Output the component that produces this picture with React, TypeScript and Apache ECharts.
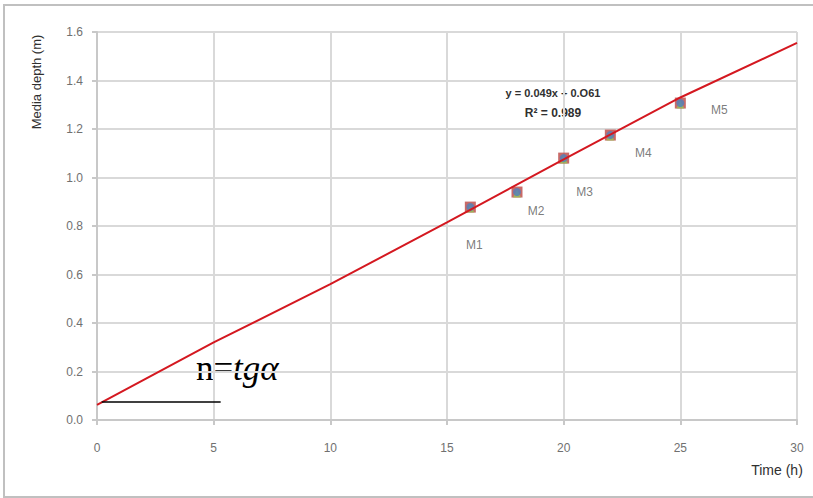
import React, { useEffect, useRef } from "react";
import * as echarts from "echarts";

const xTicks = [0, 5, 10, 15, 20, 25, 30];
const yTicks = [0, 0.2, 0.4, 0.6, 0.8, 1.0, 1.2, 1.4, 1.6];

// fitted line
const lineX = [0, 5, 10, 15, 20, 25, 30];
const lineY = [0.062, 0.32, 0.56, 0.815, 1.075, 1.33, 1.555];

// measured points
const pointNames = ["M1", "M2", "M3", "M4", "M5"];
const pointX = [16, 18, 20, 22, 25];
const pointY = [0.878, 0.94, 1.08, 1.175, 1.307];
const labelOffsets = [[4, 38], [19, 19], [21, 34], [33, 18], [39, 7]];

// annotation baseline
const baseX = [0.2, 5.3];
const baseY = [0.074, 0.074];

const equation = "y = 0.049x + 0.O61";
const r2 = "R² = 0.989";

export default function App() {
  const ref = useRef<HTMLDivElement>(null);
  useEffect(() => {
    if (!ref.current) return;
    const chart = echarts.init(ref.current, null, { renderer: "svg" });
    const pts = pointX.map((x, i) => [x, pointY[i]]);
    const font = "'Liberation Sans', Arial, sans-serif";
    const serif = "'Liberation Serif', 'Times New Roman', serif";
    chart.setOption({
      animation: false,
      backgroundColor: "#ffffff",
      grid: { left: 97, right: 16, top: 32, bottom: 78, containLabel: false },
      xAxis: {
        type: "value",
        min: xTicks[0],
        max: xTicks[xTicks.length - 1],
        interval: 5,
        axisLine: { show: true, lineStyle: { color: "#c8c8c8", width: 2 } },
        axisTick: { show: true, length: 5, lineStyle: { color: "#c8c8c8", width: 2 } },
        axisLabel: { color: "#707070", fontSize: 12, fontFamily: font, margin: 22 },
        splitLine: { show: true, lineStyle: { color: "#d9d9d9", width: 2 } },
      },
      yAxis: {
        type: "value",
        min: yTicks[0],
        max: yTicks[yTicks.length - 1],
        interval: 0.2,
        axisLine: { show: true, lineStyle: { color: "#c8c8c8", width: 2 } },
        axisTick: { show: true, length: 5, lineStyle: { color: "#c8c8c8", width: 2 } },
        axisLabel: {
          color: "#707070",
          fontSize: 12,
          fontFamily: font,
          margin: 14,
          formatter: (v: number) => v.toFixed(1),
        },
        splitLine: { show: true, lineStyle: { color: "#d9d9d9", width: 2 } },
      },
      series: [
        {
          type: "scatter",
          data: pts,
          symbol: "rect",
          symbolSize: 11,
          itemStyle: { color: "#c0504d", opacity: 0.85 },
          z: 2,
        },
        {
          type: "scatter",
          data: pts.map((p) => [p[0], p[1] - 0.006]),
          symbol: "triangle",
          symbolSize: 8,
          itemStyle: { color: "#9bbb59", opacity: 0.9 },
          z: 3,
        },
        {
          type: "scatter",
          data: pts.map((p, i) => ({
            value: p,
            label: {
              show: true,
              formatter: pointNames[i],
              position: "inside",
              offset: labelOffsets[i],
              color: "#595959",
              fontSize: 12,
              fontFamily: font,
            },
          })),
          symbol: "circle",
          symbolSize: 8,
          itemStyle: { color: "#4f81bd" },
          z: 4,
        },
        {
          type: "line",
          data: lineX.map((x, i) => [x, lineY[i]]),
          showSymbol: false,
          symbol: "none",
          lineStyle: { color: "#d41820", width: 2 },
          z: 5,
        },
        {
          type: "line",
          data: baseX.map((x, i) => [x, baseY[i]]),
          showSymbol: false,
          symbol: "none",
          lineStyle: { color: "#000000", width: 1.5 },
          z: 6,
        },
      ],
      graphic: [
        {
          type: "rect",
          shape: { x: 4, y: 5, width: 830, height: 492 },
          style: { fill: "none", stroke: "#c0c0c0", lineWidth: 2 },
          silent: true,
          z: -10,
        },
        {
          type: "text",
          x: 36,
          y: 82,
          rotation: Math.PI / 2,
          style: {
            text: "Media depth (m)",
            fill: "#303030",
            font: `13px ${font}`,
            align: "center",
            verticalAlign: "middle",
          },
        },
        {
          type: "text",
          x: 777,
          y: 470,
          style: {
            text: "Time (h)",
            fill: "#303030",
            font: `14px ${font}`,
            align: "center",
            verticalAlign: "middle",
          },
        },
        {
          type: "text",
          x: 553,
          y: 93,
          style: {
            text: equation,
            fill: "#303030",
            font: `bold 11px ${font}`,
            align: "center",
            verticalAlign: "middle",
          },
        },
        {
          type: "text",
          x: 553,
          y: 113,
          style: {
            text: r2,
            fill: "#303030",
            font: `bold 12px ${font}`,
            align: "center",
            verticalAlign: "middle",
          },
        },
        {
          type: "text",
          x: 196,
          y: 368,
          style: {
            text: "n=",
            fill: "#000000",
            font: `35px ${serif}`,
            align: "left",
            verticalAlign: "middle",
          },
        },
        {
          type: "text",
          x: 233,
          y: 368,
          style: {
            text: "tgα",
            fill: "#000000",
            font: `italic 35px ${serif}`,
            align: "left",
            verticalAlign: "middle",
          },
        },
      ],
    });
    return () => chart.dispose();
  }, []);
  return (
    <div
      ref={ref}
      style={{ position: "absolute", left: 0, top: 0, width: 813, height: 498, background: "#fff" }}
    />
  );
}
